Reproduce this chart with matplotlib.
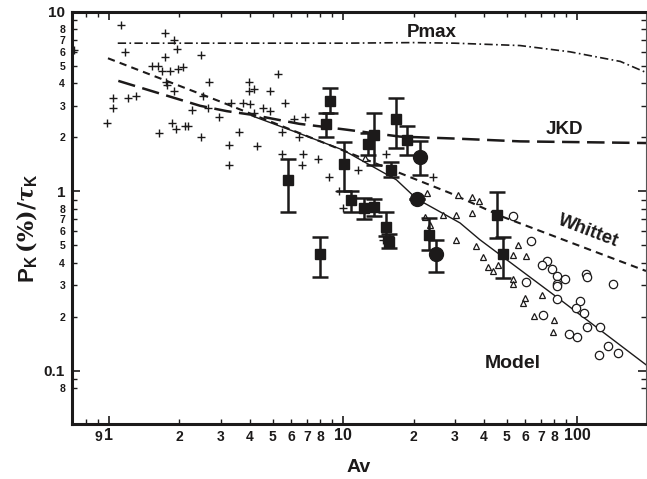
import numpy as np
import matplotlib
matplotlib.use("Agg")
import matplotlib.pyplot as plt
from matplotlib.ticker import FixedLocator, FixedFormatter

plt.rcParams['font.family'] = ['Liberation Sans', 'DejaVu Sans']
plt.rcParams['font.weight'] = 'bold'
plt.rcParams['mathtext.fontset'] = 'custom'
plt.rcParams['mathtext.bf'] = 'Liberation Sans:bold'
plt.rcParams['mathtext.rm'] = 'DejaVu Serif'
plt.rcParams['mathtext.it'] = 'DejaVu Serif:italic'

# ---------------- data ----------------
cross_x = [1.12, 1.74, 1.90, 1.96, 0.71, 1.17, 2.47, 1.74, 1.52, 1.62, 1.68, 1.82, 1.98, 2.08,
           1.76, 1.77, 2.68, 1.90, 1.04, 1.21, 1.30, 2.51, 1.04, 2.26, 2.66, 2.96, 0.98, 1.85,
           1.93, 2.11, 2.18, 1.64, 2.47, 3.27,
           5.29, 3.98, 3.98, 4.18, 4.88, 5.65, 3.31, 3.75, 4.0, 4.56, 4.88, 4.18, 6.18, 6.88,
           3.6, 5.47, 6.49, 4.28, 5.47, 6.77, 7.84, 6.66, 3.27, 8.74, 11.6, 9.64, 10.0,
           15.3, 24.2, 14.8]
cross_y = [8.47, 7.67, 6.98, 6.22, 6.15, 6.01, 5.77, 5.64, 5.02, 5.02, 4.71, 4.66, 4.82, 4.92,
           4.05, 3.93, 4.05, 3.63, 3.32, 3.32, 3.41, 3.41, 2.91, 2.85, 2.93, 2.61, 2.42, 2.42,
           2.22, 2.32, 2.32, 2.11, 2.02, 1.82,
           4.52, 4.05, 3.63, 3.71, 3.63, 3.12, 3.12, 3.12, 3.06, 2.93, 2.82, 2.73, 2.53, 2.61,
           2.14, 2.13, 2.01, 1.80, 1.62, 1.62, 1.51, 1.41, 1.41, 1.21, 1.32, 1.01, 0.81,
           1.62, 1.21, 0.533]

sq_x = [5.80, 7.97, 8.80, 8.46, 10.1, 13.6, 12.8, 16.8, 18.8, 16.0, 10.8, 12.3, 13.6,
        15.3, 15.7, 23.4, 45.5, 48.4]
sq_y = [1.15, 0.445, 3.17, 2.38, 1.43, 2.07, 1.84, 2.53, 1.94, 1.32, 0.891, 0.809, 0.819,
        0.637, 0.525, 0.574, 0.741, 0.445]
sq_lo = [0.767, 0.332, 2.74, 2.01, 1.01, 1.41, 1.60, 1.74, 1.60, 1.20, 0.767, 0.702, 0.726,
         0.562, 0.486, 0.474, 0.552, 0.327]
sq_hi = [1.52, 0.555, 3.79, 2.75, 1.88, 2.75, 2.12, 3.31, 2.30, 1.45, 1.01, 0.918, 0.910,
         0.764, 0.58, 0.711, 0.987, 0.557]

circ_x = [21.3, 20.6, 25.0]
circ_y = [1.55, 0.91, 0.445]
circ_lo = [1.23, 0.91, 0.354]
circ_hi = [1.90, 0.91, 0.533]

tri_x = [12.4, 22.8, 31.1, 35.5, 38.1, 26.8, 30.4, 35.5, 22.4, 23.5, 30.4, 37.1, 39.5, 41.7,
         43.9, 46.1, 53.4, 56.1, 60.5, 53.3, 53.4, 59.9, 58.6, 70.7, 65.3, 79.5, 78.7]
tri_y = [1.54, 0.98, 0.95, 0.93, 0.88, 0.74, 0.74, 0.755, 0.719, 0.653, 0.539, 0.497, 0.431,
         0.378, 0.362, 0.389, 0.441, 0.505, 0.434, 0.324, 0.306, 0.255, 0.240, 0.266, 0.201,
         0.192, 0.165]

open_x = [53.1, 63.6, 74.7, 71.1, 77.9, 81.9, 88.9, 81.9, 81.9, 109.6, 109.9, 142, 60.5, 81.7,
          103, 99.3, 107, 109.9, 125, 71.2, 92.7, 99.7, 135, 124.5, 150]
open_y = [0.733, 0.532, 0.411, 0.387, 0.370, 0.336, 0.325, 0.306, 0.295, 0.348, 0.334, 0.306,
          0.312, 0.251, 0.244, 0.224, 0.209, 0.176, 0.176, 0.204, 0.160, 0.154, 0.137, 0.123,
          0.126]

pmax_x = [1.09, 3, 10, 20, 30, 57, 93, 153, 197]
pmax_y = [6.7, 6.7, 6.7, 6.75, 6.7, 6.5, 6.0, 5.3, 4.6]
jkd_x = [1.096, 2.45, 3.19, 4.1, 6.5, 10, 17.5, 30, 57, 197]
jkd_y = [4.13, 3.0, 2.8, 2.67, 2.38, 2.22, 2.02, 1.97, 1.9, 1.86]
whittet_x = [0.99, 3.0, 12.6, 28.6, 48.3, 197]
whittet_y = [5.52, 3.16, 1.5, 0.98, 0.72, 0.36]
model_x = [4.07, 6.35, 10, 16.9, 20.6, 31.6, 38.4, 84.7, 197]
model_y = [2.64, 2.13, 1.7, 1.16, 0.91, 0.667, 0.538, 0.249, 0.108]

x_major = [1, 10, 100]
x_major_labels = ['1', '10', '100']
x_minor = [0.8, 0.9, 2, 3, 4, 5, 6, 7, 8, 9, 20, 30, 40, 50, 60, 70, 80, 90]
x_minor_labels = ['', '9', '2', '3', '4', '5', '6', '7', '8', '', '2', '3', '4', '5', '6', '7', '8', '']
y_major = [0.1, 1, 10]
y_major_labels = ['0.1', '1', '10']
y_minor = [0.08, 0.09, 0.2, 0.3, 0.4, 0.5, 0.6, 0.7, 0.8, 0.9, 2, 3, 4, 5, 6, 7, 8, 9]
y_minor_labels = ['8', '', '2', '3', '4', '5', '6', '7', '8', '', '2', '3', '4', '5', '6', '7', '8', '']

# ---------------- figure ----------------
ink = '#1c1a1a'
fig = plt.figure(figsize=(6.47, 4.79), dpi=100)
ax = fig.add_axes([0.1113, 0.1148, 0.8872, 0.8602])
ax.set_xscale('log')
ax.set_yscale('log')
ax.set_xlim(0.695, 197)
ax.set_ylim(0.0505, 10)

ax.plot(pmax_x, pmax_y, color=ink, lw=1.2, dashes=[5, 2, 1, 2])
ax.plot(jkd_x, jkd_y, color=ink, lw=1.8, dashes=[7, 3])
ax.plot(whittet_x, whittet_y, color=ink, lw=1.5, dashes=[3.5, 2.5])
ax.plot(model_x, model_y, color=ink, lw=1.0)

ax.plot(cross_x, cross_y, '+', color=ink, ms=6, mew=1.0, ls='none')
ax.plot(tri_x, tri_y, '^', mfc='white', mec=ink, ms=5, mew=0.9, ls='none')
ax.plot(open_x, open_y, 'o', mfc='white', mec=ink, ms=6, mew=0.9, ls='none')

sq_err = [np.array(sq_y) - np.array(sq_lo), np.array(sq_hi) - np.array(sq_y)]
ax.errorbar(sq_x, sq_y, yerr=sq_err, fmt='s', color=ink, ms=7, ecolor=ink,
            elinewidth=1.8, capsize=6, capthick=1.8)
circ_err = [np.array(circ_y) - np.array(circ_lo), np.array(circ_hi) - np.array(circ_y)]
ax.errorbar(circ_x, circ_y, yerr=circ_err, fmt='o', color=ink, ms=10, ecolor=ink,
            elinewidth=1.8, capsize=6, capthick=1.8)

# ticks
ax.xaxis.set_major_locator(FixedLocator(x_major))
ax.xaxis.set_major_formatter(FixedFormatter(x_major_labels))
ax.xaxis.set_minor_locator(FixedLocator(x_minor))
ax.xaxis.set_minor_formatter(FixedFormatter(x_minor_labels))
ax.yaxis.set_major_locator(FixedLocator(y_major))
ax.yaxis.set_major_formatter(FixedFormatter(y_major_labels))
ax.yaxis.set_minor_locator(FixedLocator(y_minor))
ax.yaxis.set_minor_formatter(FixedFormatter(y_minor_labels))

ax.tick_params(which='both', direction='in', top=True, right=True, color=ink, labelcolor=ink)
ax.tick_params(axis='x', which='major', length=6, width=1.2, labelsize=11.5, pad=3)
ax.tick_params(axis='x', which='minor', length=3.5, width=1.0, labelsize=10, pad=4)
ax.tick_params(axis='y', which='major', length=6, width=1.2, labelsize=11, pad=5)
ax.tick_params(axis='y', which='minor', length=3.5, width=1.0, labelsize=7.6, pad=5)

for side in ['left', 'bottom', 'top']:
    ax.spines[side].set_linewidth(2.2)
    ax.spines[side].set_color(ink)
ax.spines['right'].set_linewidth(0.8)
ax.spines['right'].set_color('#555555')

ax.text(0.627, 0.949, 'Pmax', transform=ax.transAxes, fontsize=13.5, fontweight='bold',
        ha='center', va='center', color=ink)
ax.text(0.857, 0.714, 'JKD', transform=ax.transAxes, fontsize=13.5, fontweight='bold',
        ha='center', va='center', color=ink)
ax.text(0.899, 0.468, 'Whittet', transform=ax.transAxes, fontsize=13.5, fontweight='bold',
        ha='center', va='center', rotation=-21, rotation_mode='anchor', color=ink)
ax.text(0.767, 0.146, 'Model', transform=ax.transAxes, fontsize=14, fontweight='bold',
        ha='center', va='center', color=ink)

fig.text(359 / 647, 1 - 467 / 479, 'Av', fontsize=14, fontweight='bold',
         ha='center', va='center', color=ink)
fig.text(27 / 647, 1 - 228 / 479, r'$\mathbf{P}_{\mathbf{K}}\,(\%)/\tau_{\mathbf{K}}$',
         fontsize=16, rotation=90, ha='center', va='center', color=ink)

fig.savefig('out.png', dpi=100)
